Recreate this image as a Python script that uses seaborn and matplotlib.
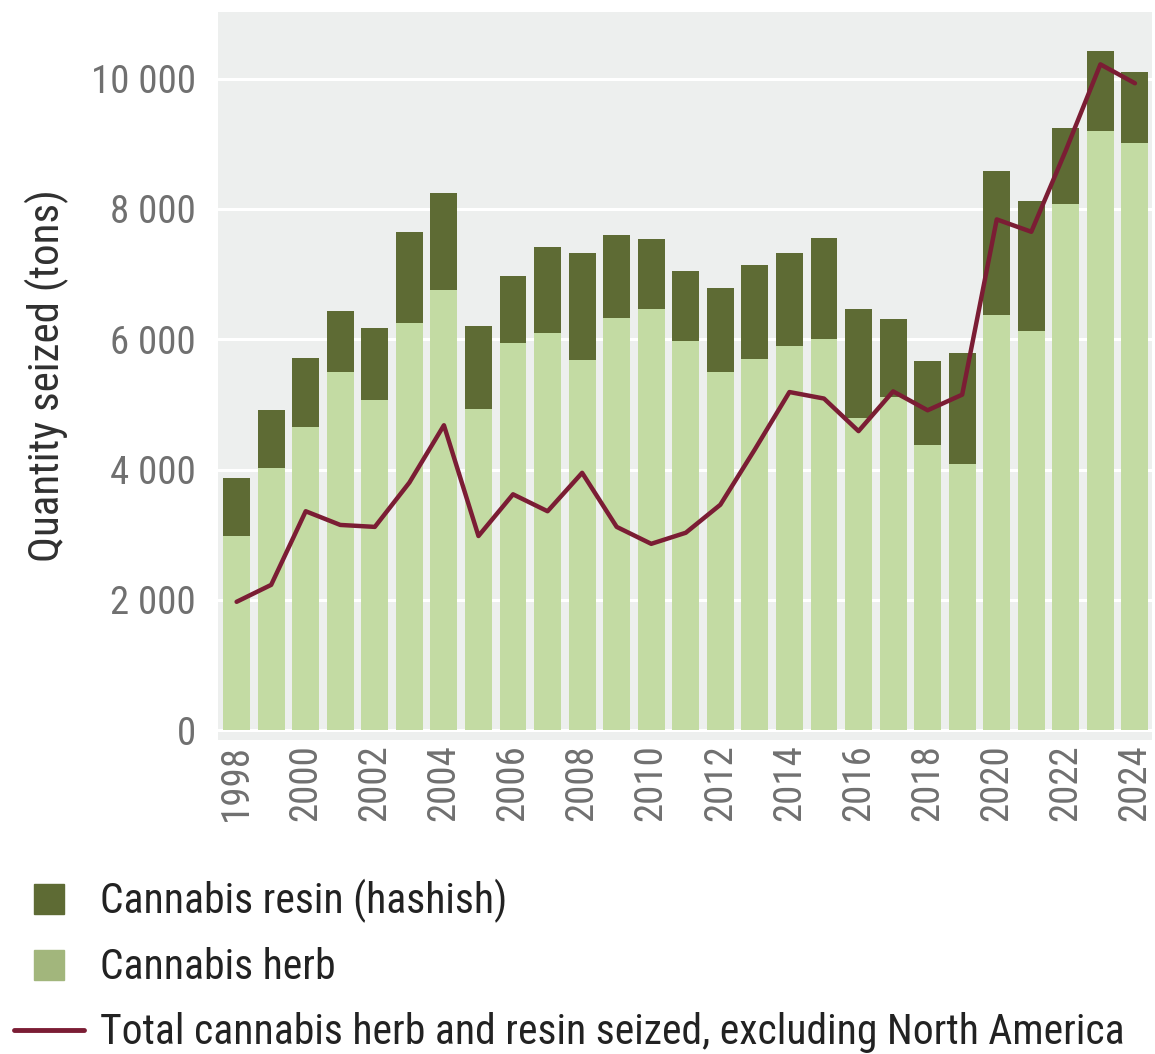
import numpy as np
import matplotlib
matplotlib.use("Agg")
import matplotlib.pyplot as plt
from matplotlib import font_manager
from matplotlib.lines import Line2D
from matplotlib.ticker import FuncFormatter, MultipleLocator
import seaborn as sns

# values (tons)
years = list(range(1998, 2025))
herb = [2980, 4020, 4660, 5490, 5070, 6250, 6760, 4930, 5940, 6100, 5680, 6320, 6470, 5980,
        5500, 5690, 5890, 6010, 4790, 5110, 4370, 4080, 6380, 6120, 8070, 9190, 9020]
resin = [890, 890, 1050, 950, 1100, 1400, 1480, 1280, 1030, 1320, 1650, 1280, 1070, 1065,
         1280, 1450, 1430, 1540, 1680, 1200, 1300, 1710, 2210, 2000, 1180, 1240, 1090]
total_excl_na = [1970, 2230, 3360, 3150, 3120, 3800, 4680, 2980, 3620, 3360, 3950, 3120, 2860,
                 3030, 3460, 4310, 5190, 5090, 4590, 5200, 4910, 5150, 7840, 7650, 8900, 10220, 9930]

labels = ["Cannabis resin (hashish)", "Cannabis herb",
          "Total cannabis herb and resin seized, excluding North America"]

resin_col = "#5e6b34"
herb_col = "#c3dba3"
herb_legend_col = "#a2b67c"
line_col = "#7b1d34"

sns.set_theme(style="white")


def is_narrow(f):
    st = f.stretch
    if isinstance(st, str):
        narrow = "condensed" in st or st == "narrower"
    else:
        narrow = st < 500
    return narrow or "Narrow" in f.name or "Condensed" in f.name


# the reference uses a condensed face; pick one if the system has it
narrow_fonts = [f for f in font_manager.fontManager.ttflist
                if is_narrow(f) and f.weight in ("normal", "regular", 400)]
pref = ["Roboto", "Liberation", "DejaVu", "Noto", "Open", "Lato"]
narrow_fonts.sort(key=lambda f: next((i for i, p in enumerate(pref) if f.name.startswith(p)), 99))
if narrow_fonts:
    fam = narrow_fonts[0].name
    plt.rcParams["font.stretch"] = narrow_fonts[0].stretch
    fs = 28
else:
    fam = "Roboto"
    fs = 24
plt.rcParams["font.family"] = [fam, "DejaVu Sans"]

stacked = [h + r for h, r in zip(herb, resin)]

fig = plt.figure(figsize=(11.55, 10.54), dpi=100)
ax = fig.add_axes([0.189, 0.298, 0.808, 0.691])
ax.set_facecolor("#edefee")

# stacked bars: full height in resin colour, herb drawn over it
sns.barplot(x=years, y=stacked, native_scale=True, color=resin_col, width=0.78,
            saturation=1, linewidth=0, ax=ax, zorder=2)
sns.barplot(x=years, y=herb, native_scale=True, color=herb_col, width=0.78,
            saturation=1, linewidth=0, ax=ax, zorder=3)
sns.lineplot(x=years, y=total_excl_na, color=line_col, linewidth=3.2, ax=ax, zorder=4)

ax.set_ylim(-150, 11030)
ax.set_xlim(1997.47, 2024.48)
ax.yaxis.set_major_locator(MultipleLocator(2000))
ax.yaxis.set_major_formatter(FuncFormatter(lambda v, p: f"{int(v):,}".replace(",", " ")))
ax.set_xticks(years[::2])
ax.set_xticklabels([str(y) for y in years[::2]], rotation=90)
ax.grid(axis="y", color="white", linewidth=2.2, zorder=1)
ax.set_axisbelow(True)
for s in ax.spines.values():
    s.set_visible(False)
ax.tick_params(axis="y", length=0, pad=16, labelsize=fs, labelcolor="#707070")
ax.tick_params(axis="x", length=0, pad=3, labelsize=fs, labelcolor="#707070")
ax.set_xlabel("")
ax.set_ylabel("Quantity seized (tons)", fontsize=fs + 3, color="#303030", labelpad=16)

lfs = fs + 2
handles = [
    Line2D([], [], linestyle="none", marker="s", markersize=22, color=resin_col),
    Line2D([], [], linestyle="none", marker="s", markersize=22, color=herb_legend_col),
    Line2D([], [], color=line_col, linewidth=3.5),
]
fig.legend(handles, labels, loc="upper left", bbox_to_anchor=(0.012, 0.166),
           frameon=False, fontsize=lfs, borderpad=0, borderaxespad=0,
           handlelength=70 / lfs / 1.389, handletextpad=0.38, labelspacing=0.58,
           labelcolor="#222222")

fig.savefig("out.png", dpi=100)
